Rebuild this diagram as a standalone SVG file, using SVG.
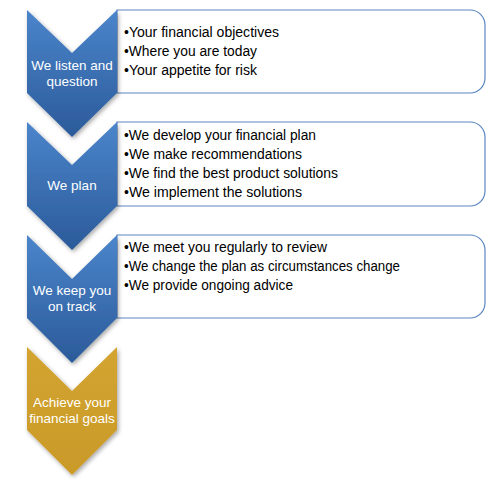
<svg xmlns="http://www.w3.org/2000/svg" width="500" height="487" viewBox="0 0 500 487">
<defs>
<linearGradient id="blue" x1="0" y1="0" x2="0" y2="1">
<stop offset="0" stop-color="#4b85cb"/>
<stop offset="1" stop-color="#2b5a99"/>
</linearGradient>
<linearGradient id="gold" x1="0" y1="0" x2="0" y2="1">
<stop offset="0" stop-color="#d3a430"/>
<stop offset="1" stop-color="#c99a28"/>
</linearGradient>
<filter id="sh" x="-20%" y="-20%" width="140%" height="140%">
<feDropShadow dx="1.5" dy="2" stdDeviation="2" flood-color="#000" flood-opacity="0.35"/>
</filter>
</defs>
<style>
.box{fill:#fff;stroke:#5a86c0;stroke-width:1.2}
.chev{filter:url(#sh)}
.ct{font-family:"Liberation Sans",Arial,sans-serif;font-size:13.5px;fill:#fff;text-anchor:middle}
.bt{font-family:"Liberation Sans",Arial,sans-serif;font-size:14px;fill:#000}
</style>
<rect width="500" height="487" fill="#fff"/>
<g id="box1"><path class="box" d="M117,10 H470 A15,15 0 0 1 485,25 V78 A15,15 0 0 1 470,93 H117 Z"/>
<text class="bt" x="124" y="37" textLength="155" lengthAdjust="spacingAndGlyphs">•Your financial objectives</text>
<text class="bt" x="124" y="56" textLength="133" lengthAdjust="spacingAndGlyphs">•Where you are today</text>
<text class="bt" x="124" y="75" textLength="133" lengthAdjust="spacingAndGlyphs">•Your appetite for risk</text></g>
<g id="box2"><path class="box" d="M117,122 H470 A15,15 0 0 1 485,137 V191 A15,15 0 0 1 470,206 H117 Z"/>
<text class="bt" x="124" y="140" textLength="192" lengthAdjust="spacingAndGlyphs">•We develop your financial plan</text>
<text class="bt" x="124" y="159" textLength="178" lengthAdjust="spacingAndGlyphs">•We make recommendations</text>
<text class="bt" x="124" y="178" textLength="214" lengthAdjust="spacingAndGlyphs">•We find the best product solutions</text>
<text class="bt" x="124" y="197" textLength="178" lengthAdjust="spacingAndGlyphs">•We implement the solutions</text></g>
<g id="box3"><path class="box" d="M117,235 H470 A15,15 0 0 1 485,250 V303 A15,15 0 0 1 470,318 H117 Z"/>
<text class="bt" x="124" y="252" textLength="203" lengthAdjust="spacingAndGlyphs">•We meet you regularly to review</text>
<text class="bt" x="124" y="271" textLength="276" lengthAdjust="spacingAndGlyphs">•We change the plan as circumstances change</text>
<text class="bt" x="124" y="290" textLength="169" lengthAdjust="spacingAndGlyphs">•We provide ongoing advice</text></g>
<g id="step1"><path class="chev" fill="url(#blue)" d="M27,10 L72,53 L117,10 L117,93 L72,137 L27,93 Z"/>
<text class="ct" x="72" y="70">We listen and</text>
<text class="ct" x="72" y="86">question</text></g>
<g id="step2"><path class="chev" fill="url(#blue)" d="M27,122 L72,165 L117,122 L117,206 L72,250 L27,206 Z"/>
<text class="ct" x="72" y="190">We plan</text></g>
<g id="step3"><path class="chev" fill="url(#blue)" d="M27,235 L72,279 L117,235 L117,318 L72,363 L27,318 Z"/>
<text class="ct" x="72" y="295">We keep you</text>
<text class="ct" x="72" y="311">on track</text></g>
<g id="step4"><path class="chev" fill="url(#gold)" d="M27,347 L72,391 L117,347 L117,430 L72,475 L27,430 Z"/>
<text class="ct" x="72" y="407">Achieve your</text>
<text class="ct" x="72" y="423">financial goals</text></g>
<g id="connectors"/>
</svg>
